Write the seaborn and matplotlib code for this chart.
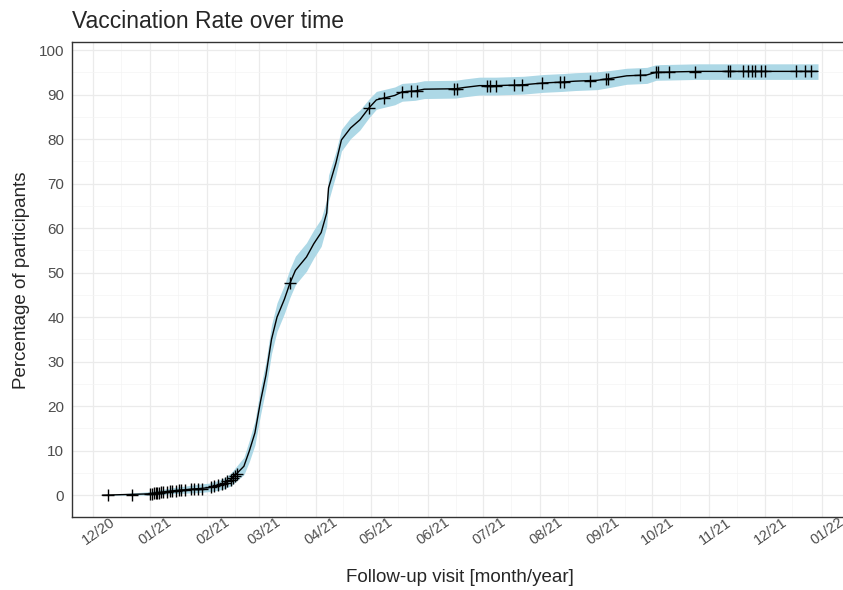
import numpy as np
import pandas as pd
import seaborn as sns
import matplotlib.pyplot as plt
import matplotlib.dates as mdates
from matplotlib.ticker import MultipleLocator
from matplotlib.transforms import ScaledTranslation

# cumulative vaccination curve
curve_dates = ['2020-12-06', '2021-01-01', '2021-01-06', '2021-01-12', '2021-01-17', '2021-01-23',
               '2021-01-28', '2021-02-02', '2021-02-07', '2021-02-10', '2021-02-14', '2021-02-17',
               '2021-02-21', '2021-02-24', '2021-02-27', '2021-03-02', '2021-03-05', '2021-03-08',
               '2021-03-11', '2021-03-15', '2021-03-18', '2021-03-21', '2021-03-27', '2021-03-31',
               '2021-04-04', '2021-04-07', '2021-04-08', '2021-04-12', '2021-04-15', '2021-04-20',
               '2021-04-25', '2021-04-30', '2021-05-04', '2021-05-09', '2021-05-14', '2021-05-18',
               '2021-05-25', '2021-05-30', '2021-06-16', '2021-06-21', '2021-06-29', '2021-07-08',
               '2021-07-23', '2021-08-03', '2021-08-13', '2021-08-20', '2021-09-01', '2021-09-08',
               '2021-09-17', '2021-09-28', '2021-10-03', '2021-10-26', '2021-12-30']
curve_pct = [0, 0.3, 0.6, 0.9, 1.1, 1.3,
             1.5, 1.7, 2.2, 2.6, 3.5, 4.8,
             6.5, 10, 14, 21, 27, 35,
             40, 44, 47.6, 50.5, 53.5, 56.5,
             59, 63.4, 69, 74.6, 79.8, 82.5,
             84.3, 87, 88.8, 89.3, 89.8, 90.6,
             90.8, 91.2, 91.3, 91.6, 92.0, 92.0,
             92.2, 92.6, 92.8, 93.0, 93.2, 93.6,
             94.2, 94.4, 95.0, 95.2, 95.2]
ci_low = [0, 0, 0.1, 0.3, 0.4, 0.5,
          0.6, 0.8, 1.1, 1.4, 2.1, 3.2,
          4.6, 7.6, 11.3, 18, 24, 31.8,
          36.8, 40.8, 44.4, 47.3, 50.3, 53.3,
          55.9, 60.4, 66.1, 71.9, 77.3, 80.1,
          82, 84.8, 86.7, 87.2, 87.7, 88.5,
          88.7, 89.1, 89.2, 89.5, 89.9, 89.9,
          90.1, 90.5, 90.7, 90.9, 91.1, 91.6,
          92.3, 92.5, 93.2, 93.4, 93.4]
ci_high = [0, 0.8, 1.2, 1.6, 1.9, 2.2,
           2.5, 2.7, 3.3, 3.8, 5.0, 6.5,
           8.5, 12.4, 16.7, 24, 30.1, 38.2,
           43.2, 47.2, 50.8, 53.7, 56.7, 59.6,
           62.1, 66.4, 71.9, 77.2, 82.2, 84.8,
           86.5, 89, 90.7, 91.2, 91.7, 92.5,
           92.7, 93.1, 93.2, 93.5, 93.9, 93.9,
           94.1, 94.5, 94.7, 94.9, 95.1, 95.4,
           95.9, 96.1, 96.7, 96.9, 96.9]

# censored follow-up visits ("+" marks)
cens_dates = ['2020-12-09', '2020-12-22', '2021-01-01', '2021-01-02', '2021-01-03', '2021-01-04',
              '2021-01-05', '2021-01-06', '2021-01-07', '2021-01-08', '2021-01-10', '2021-01-12',
              '2021-01-13', '2021-01-15', '2021-01-17', '2021-01-18', '2021-01-20', '2021-01-23',
              '2021-01-25', '2021-01-27', '2021-01-29', '2021-02-03', '2021-02-05', '2021-02-07',
              '2021-02-09', '2021-02-11', '2021-02-12', '2021-02-14', '2021-02-15', '2021-02-16',
              '2021-02-17', '2021-03-18', '2021-04-30', '2021-05-08', '2021-05-18', '2021-05-23',
              '2021-05-26', '2021-06-15', '2021-06-17', '2021-07-03', '2021-07-05', '2021-07-08',
              '2021-07-18', '2021-07-22', '2021-08-02', '2021-08-12', '2021-08-14', '2021-08-28',
              '2021-09-06', '2021-09-07', '2021-09-24', '2021-10-03', '2021-10-04', '2021-10-10',
              '2021-10-24', '2021-11-11', '2021-11-12', '2021-11-19', '2021-11-22', '2021-11-24',
              '2021-11-26', '2021-11-29', '2021-12-01', '2021-12-18', '2021-12-23', '2021-12-26']
cens_pct = [0, 0, 0.3, 0.35, 0.4, 0.45,
            0.5, 0.6, 0.65, 0.7, 0.8, 0.9,
            0.95, 1.0, 1.1, 1.15, 1.2, 1.3,
            1.4, 1.45, 1.5, 1.8, 2.0, 2.2,
            2.5, 2.8, 3.1, 3.5, 3.9, 4.3,
            4.8, 47.6, 87, 89.2, 90.6, 90.8,
            90.9, 91.3, 91.3, 92.0, 92.0, 92.0,
            92.1, 92.2, 92.6, 92.8, 92.8, 93.1,
            93.5, 93.5, 94.4, 95.0, 95.0, 95.0,
            95.0, 95.2, 95.2, 95.2, 95.2, 95.2,
            95.2, 95.2, 95.2, 95.2, 95.2, 95.2]

curve = pd.DataFrame({'date': pd.to_datetime(curve_dates), 'pct': curve_pct,
                      'low': ci_low, 'high': ci_high})
cens = pd.DataFrame({'date': pd.to_datetime(cens_dates), 'pct': cens_pct})

sns.set_style('white')
plt.rcParams['font.family'] = ['Liberation Sans', 'DejaVu Sans']

fig = plt.figure(figsize=(8.43, 5.9), dpi=100)
ax = fig.add_axes([72 / 843, 1 - 517 / 590, 1 - 72 / 843, (517 - 42) / 590])

ax.fill_between(curve['date'], curve['low'], curve['high'], color='#ADD8E6', lw=0, zorder=2)
sns.lineplot(data=curve, x='date', y='pct', color='black', lw=1, estimator=None, ax=ax, zorder=3)
sns.scatterplot(data=cens, x='date', y='pct', marker='+', s=70, color='black', linewidth=1,
                ax=ax, zorder=4)

# axes
ax.set_xlim(pd.Timestamp('2020-11-19 14:00'), pd.Timestamp('2022-01-12 14:00'))
ax.set_ylim(-4.9, 101.8)
ax.xaxis.set_major_locator(mdates.MonthLocator())
ax.xaxis.set_minor_locator(mdates.MonthLocator(bymonthday=16))
ax.xaxis.set_major_formatter(mdates.DateFormatter('%m/%y'))
ax.yaxis.set_major_locator(MultipleLocator(10))
ax.yaxis.set_minor_locator(MultipleLocator(5))

ax.grid(which='major', color='#EBEBEB', lw=0.9)
ax.grid(which='minor', color='#F4F4F4', lw=0.5)
ax.set_axisbelow(True)
for side in ['left', 'top', 'bottom']:
    ax.spines[side].set_color('#333333')
    ax.spines[side].set_linewidth(1.0)
ax.spines['right'].set_visible(False)

ax.tick_params(which='major', direction='out', length=3.5, width=0.8, color='#333333',
               labelcolor='#4D4D4D', labelsize=11)
ax.tick_params(which='minor', length=0)
ax.tick_params(axis='y', pad=2)
ax.tick_params(axis='x', pad=7, labelsize=10.5)
shift = ScaledTranslation(4 / 72, 0, fig.dpi_scale_trans)
for lab in ax.get_xticklabels():
    lab.set_rotation(35)
    lab.set_ha('center')
    lab.set_va('center')
    lab.set_rotation_mode('anchor')
    lab.set_transform(lab.get_transform() + shift)

ax.set_xlabel('')
ax.set_ylabel('')
fig.text(72 / 843, 1 - 21 / 590, 'Vaccination Rate over time', fontsize=16.5, va='center', ha='left')
fig.text(22 / 843, 1 - 280 / 590, 'Percentage of participants', fontsize=13.5, rotation=90,
         va='center', ha='center')
fig.text(460 / 843, 1 - 578 / 590, 'Follow-up visit [month/year]', fontsize=13.5,
         va='center', ha='center')

fig.savefig('out.png', dpi=100)
